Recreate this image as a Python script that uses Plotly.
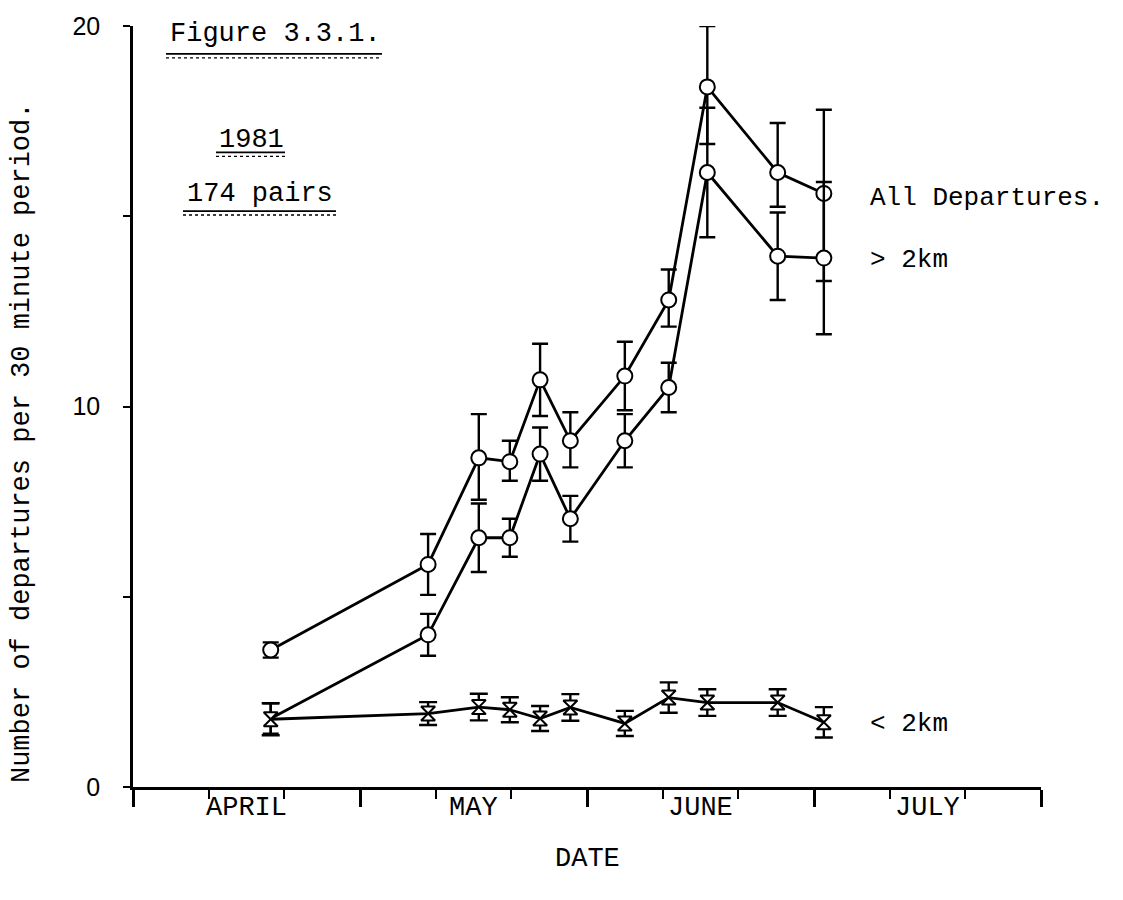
import plotly.graph_objects as go

# Dates as days since 1 April (each month drawn as 30 units, ticks every 10 days)
days = [18.2, 39.0, 45.7, 49.8, 53.8, 57.8, 65.0, 70.8, 75.9, 85.2, 91.3]

all_dep = [3.6, 5.85, 8.65, 8.55, 10.7, 9.1, 10.8, 12.8, 18.4, 16.15, 15.6]
all_err_plus = [0.2, 0.8, 1.15, 0.55, 0.95, 0.75, 0.9, 0.8, 1.6, 1.3, 2.2]
all_err_minus = [0.2, 0.8, 1.1, 0.5, 0.95, 0.7, 0.9, 0.7, 1.5, 0.9, 2.3]

gt2 = [1.8, 4.0, 6.55, 6.55, 8.75, 7.05, 9.1, 10.5, 16.15, 13.95, 13.9]
gt2_err = [0.4, 0.55, 0.9, 0.5, 0.7, 0.6, 0.7, 0.65, 1.7, 1.15, 2.0]

lt2 = [1.78, 1.93, 2.1, 2.03, 1.8, 2.09, 1.67, 2.35, 2.22, 2.22, 1.70]
lt2_err = [0.42, 0.3, 0.35, 0.33, 0.33, 0.35, 0.33, 0.4, 0.35, 0.35, 0.4]

month_labels = ["APRIL", "MAY", "JUNE", "JULY"]
month_centers = [15, 45, 75, 105]
y_tickvals = [0, 5, 10, 15, 20]
y_ticktext = ["0", "", "10", "", "20"]

MONO = "Liberation Mono"
SANS = "Liberation Sans"
BLACK = "black"

fig = go.Figure()

fig.add_trace(go.Scatter(
    x=days, y=all_dep, mode="lines+markers", name="All Departures.",
    line=dict(color=BLACK, width=2.8),
    marker=dict(symbol="circle", size=15, color="white", line=dict(color=BLACK, width=2)),
    error_y=dict(type="data", symmetric=False, array=all_err_plus, arrayminus=all_err_minus,
                 color=BLACK, thickness=2.4, width=8),
    cliponaxis=False,
))

gt2_opacity = [0] + [1] * (len(gt2) - 1)
fig.add_trace(go.Scatter(
    x=days, y=gt2, mode="lines+markers", name="> 2km",
    line=dict(color=BLACK, width=2.8),
    marker=dict(symbol="circle", size=15, color="white", opacity=gt2_opacity,
                line=dict(color=BLACK, width=2)),
    error_y=dict(type="data", array=gt2_err, color=BLACK, thickness=2.4, width=8),
    cliponaxis=False,
))

fig.add_trace(go.Scatter(
    x=days, y=lt2, mode="lines+markers", name="< 2km",
    line=dict(color=BLACK, width=2.8),
    marker=dict(symbol="hourglass", size=14, color="white", line=dict(color=BLACK, width=2)),
    error_y=dict(type="data", array=lt2_err, color=BLACK, thickness=2.4, width=9),
    cliponaxis=False,
))

annotations = []
for lab, c in zip(month_labels, month_centers):
    annotations.append(dict(x=c, y=0, xref="x", yref="paper", text=lab, showarrow=False,
                            yanchor="middle", yshift=-21,
                            font=dict(family=MONO, size=27, color=BLACK)))

annotations += [
    dict(x=0.5, y=0, xref="paper", yref="paper", text="DATE", showarrow=False,
         yanchor="middle", yshift=-72, font=dict(family=MONO, size=27, color=BLACK)),
    dict(x=-0.122, y=(787 - 441) / 765, xref="paper", yref="paper",
         text="Number of departures per 30 minute period.", textangle=-90, showarrow=False,
         xanchor="center", yanchor="middle", font=dict(family=MONO, size=27, color=BLACK)),
    dict(x=0.809, y=(787 - 195) / 765, xref="paper", yref="paper", text="All Departures.",
         showarrow=False, xanchor="left", yanchor="middle",
         font=dict(family=MONO, size=26, color=BLACK)),
    dict(x=0.809, y=(787 - 257) / 765, xref="paper", yref="paper", text="> 2km",
         showarrow=False, xanchor="left", yanchor="middle",
         font=dict(family=MONO, size=26, color=BLACK)),
    dict(x=0.809, y=(787 - 724) / 765, xref="paper", yref="paper", text="< 2km",
         showarrow=False, xanchor="left", yanchor="middle",
         font=dict(family=MONO, size=26, color=BLACK)),
    dict(x=(168 - 133) / 908, y=(787 - 30) / 765, xref="paper", yref="paper", text="Figure 3.3.1.",
         showarrow=False, xanchor="left", yanchor="middle",
         font=dict(family=MONO, size=27, color=BLACK)),
    dict(x=(217 - 133) / 908, y=(787 - 137) / 765, xref="paper", yref="paper", text="1981",
         showarrow=False, xanchor="left", yanchor="middle",
         font=dict(family=MONO, size=27, color=BLACK)),
    dict(x=(185 - 133) / 908, y=(787 - 191) / 765, xref="paper", yref="paper", text="174 pairs",
         showarrow=False, xanchor="left", yanchor="middle",
         font=dict(family=MONO, size=27, color=BLACK)),
]

def px_x(p):
    return (p - 133) / 908

def px_y(p):
    return (787 - p) / 765

shapes = []
for (x0, x1, yy) in [(166, 382, 50), (216, 285, 149), (183, 336, 208)]:
    shapes.append(dict(type="line", xref="paper", yref="paper", x0=px_x(x0), x1=px_x(x1),
                       y0=px_y(yy), y1=px_y(yy), line=dict(color=BLACK, width=1.8)))
    shapes.append(dict(type="line", xref="paper", yref="paper", x0=px_x(x0), x1=px_x(x1),
                       y0=px_y(yy + 4), y1=px_y(yy + 4), line=dict(color=BLACK, width=1.3, dash="dot")))

fig.update_layout(
    width=1123, height=900,
    margin=dict(l=133, r=82, t=22, b=113),
    paper_bgcolor="white", plot_bgcolor="white",
    showlegend=False,
    annotations=annotations,
    shapes=shapes,
    xaxis=dict(
        range=[0, 120], showgrid=False, zeroline=False,
        showline=True, linecolor=BLACK, linewidth=2.5,
        tickmode="array", tickvals=[0, 30, 60, 90, 120], ticks="outside",
        ticklen=17, tickwidth=2.5, tickcolor=BLACK, showticklabels=False,
        minor=dict(tickmode="linear", tick0=0, dtick=10, ticks="outside", ticklen=9,
                   tickwidth=2, tickcolor=BLACK, showgrid=False),
    ),
    yaxis=dict(
        range=[0, 20], showgrid=False, zeroline=False,
        showline=True, linecolor=BLACK, linewidth=2.5,
        tickmode="array", tickvals=y_tickvals, ticktext=y_ticktext,
        ticks="outside", ticklen=7, tickwidth=2, tickcolor=BLACK,
        ticklabelstandoff=18,
        tickfont=dict(family=SANS, size=25, color=BLACK),
    ),
)

fig.write_html("out.html")
